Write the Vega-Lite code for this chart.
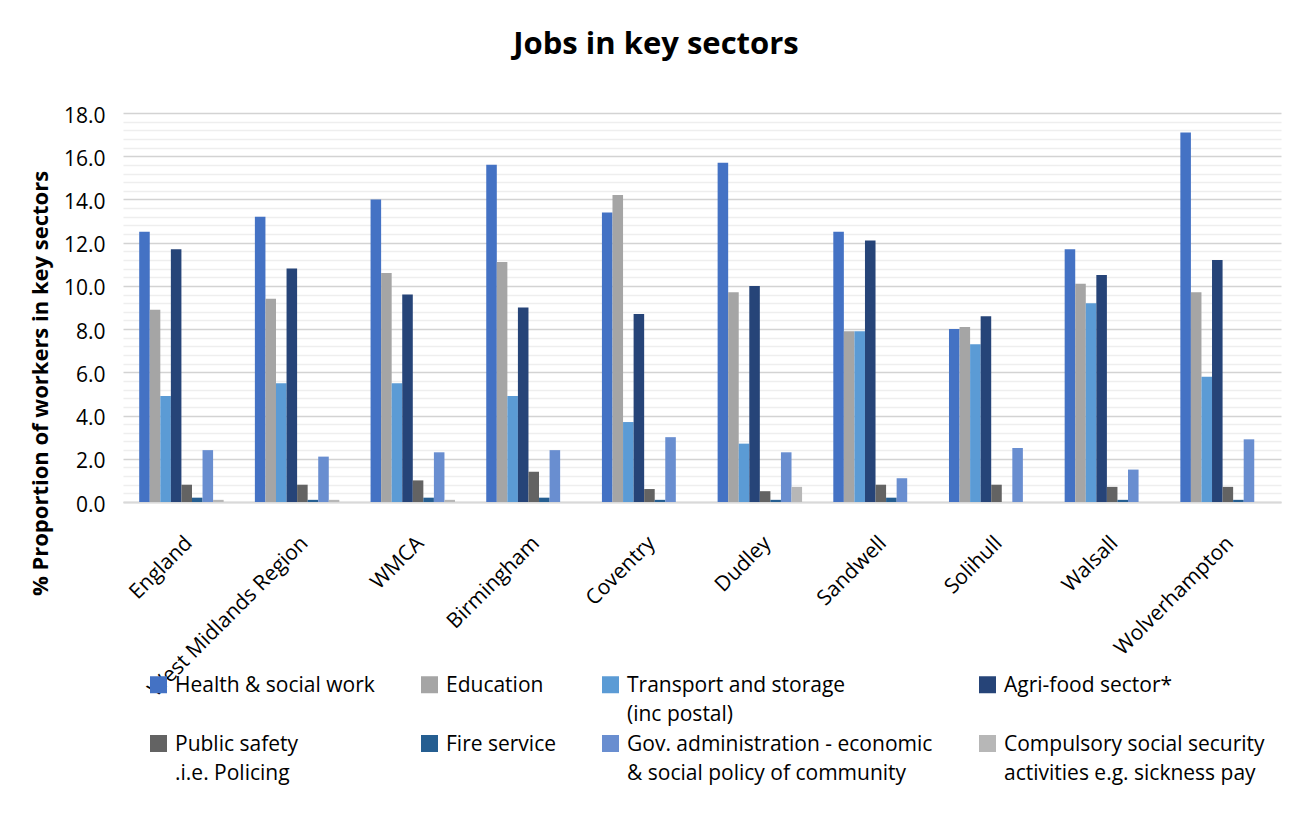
{
  "$schema": "https://vega.github.io/schema/vega-lite/v6.json",
  "width": 1158,
  "height": 389,
  "autosize": "none",
  "padding": {"left": 123, "top": 113, "right": 31, "bottom": 333},
  "background": "white",
  "title": {"text": "Jobs in key sectors", "font": "Open Sans", "fontSize": 31, "fontWeight": "bold", "color": "#000000", "anchor": "middle", "offset": 44, "dx": -46},
  "data": {"values": [
    {"area": "England", "sector": "Health & social work", "pct": 12.5},
    {"area": "England", "sector": "Education", "pct": 8.9},
    {"area": "England", "sector": "Transport and storage (inc postal)", "pct": 4.9},
    {"area": "England", "sector": "Agri-food sector*", "pct": 11.7},
    {"area": "England", "sector": "Public safety .i.e. Policing", "pct": 0.8},
    {"area": "England", "sector": "Fire service", "pct": 0.2},
    {"area": "England", "sector": "Gov. administration - economic & social policy of community", "pct": 2.4},
    {"area": "England", "sector": "Compulsory social security activities e.g. sickness pay", "pct": 0.1},
    {"area": "West Midlands Region", "sector": "Health & social work", "pct": 13.2},
    {"area": "West Midlands Region", "sector": "Education", "pct": 9.4},
    {"area": "West Midlands Region", "sector": "Transport and storage (inc postal)", "pct": 5.5},
    {"area": "West Midlands Region", "sector": "Agri-food sector*", "pct": 10.8},
    {"area": "West Midlands Region", "sector": "Public safety .i.e. Policing", "pct": 0.8},
    {"area": "West Midlands Region", "sector": "Fire service", "pct": 0.1},
    {"area": "West Midlands Region", "sector": "Gov. administration - economic & social policy of community", "pct": 2.1},
    {"area": "West Midlands Region", "sector": "Compulsory social security activities e.g. sickness pay", "pct": 0.1},
    {"area": "WMCA", "sector": "Health & social work", "pct": 14.0},
    {"area": "WMCA", "sector": "Education", "pct": 10.6},
    {"area": "WMCA", "sector": "Transport and storage (inc postal)", "pct": 5.5},
    {"area": "WMCA", "sector": "Agri-food sector*", "pct": 9.6},
    {"area": "WMCA", "sector": "Public safety .i.e. Policing", "pct": 1.0},
    {"area": "WMCA", "sector": "Fire service", "pct": 0.2},
    {"area": "WMCA", "sector": "Gov. administration - economic & social policy of community", "pct": 2.3},
    {"area": "WMCA", "sector": "Compulsory social security activities e.g. sickness pay", "pct": 0.1},
    {"area": "Birmingham", "sector": "Health & social work", "pct": 15.6},
    {"area": "Birmingham", "sector": "Education", "pct": 11.1},
    {"area": "Birmingham", "sector": "Transport and storage (inc postal)", "pct": 4.9},
    {"area": "Birmingham", "sector": "Agri-food sector*", "pct": 9.0},
    {"area": "Birmingham", "sector": "Public safety .i.e. Policing", "pct": 1.4},
    {"area": "Birmingham", "sector": "Fire service", "pct": 0.2},
    {"area": "Birmingham", "sector": "Gov. administration - economic & social policy of community", "pct": 2.4},
    {"area": "Coventry", "sector": "Health & social work", "pct": 13.4},
    {"area": "Coventry", "sector": "Education", "pct": 14.2},
    {"area": "Coventry", "sector": "Transport and storage (inc postal)", "pct": 3.7},
    {"area": "Coventry", "sector": "Agri-food sector*", "pct": 8.7},
    {"area": "Coventry", "sector": "Public safety .i.e. Policing", "pct": 0.6},
    {"area": "Coventry", "sector": "Fire service", "pct": 0.1},
    {"area": "Coventry", "sector": "Gov. administration - economic & social policy of community", "pct": 3.0},
    {"area": "Dudley", "sector": "Health & social work", "pct": 15.7},
    {"area": "Dudley", "sector": "Education", "pct": 9.7},
    {"area": "Dudley", "sector": "Transport and storage (inc postal)", "pct": 2.7},
    {"area": "Dudley", "sector": "Agri-food sector*", "pct": 10.0},
    {"area": "Dudley", "sector": "Public safety .i.e. Policing", "pct": 0.5},
    {"area": "Dudley", "sector": "Fire service", "pct": 0.1},
    {"area": "Dudley", "sector": "Gov. administration - economic & social policy of community", "pct": 2.3},
    {"area": "Dudley", "sector": "Compulsory social security activities e.g. sickness pay", "pct": 0.7},
    {"area": "Sandwell", "sector": "Health & social work", "pct": 12.5},
    {"area": "Sandwell", "sector": "Education", "pct": 7.9},
    {"area": "Sandwell", "sector": "Transport and storage (inc postal)", "pct": 7.9},
    {"area": "Sandwell", "sector": "Agri-food sector*", "pct": 12.1},
    {"area": "Sandwell", "sector": "Public safety .i.e. Policing", "pct": 0.8},
    {"area": "Sandwell", "sector": "Fire service", "pct": 0.2},
    {"area": "Sandwell", "sector": "Gov. administration - economic & social policy of community", "pct": 1.1},
    {"area": "Solihull", "sector": "Health & social work", "pct": 8.0},
    {"area": "Solihull", "sector": "Education", "pct": 8.1},
    {"area": "Solihull", "sector": "Transport and storage (inc postal)", "pct": 7.3},
    {"area": "Solihull", "sector": "Agri-food sector*", "pct": 8.6},
    {"area": "Solihull", "sector": "Public safety .i.e. Policing", "pct": 0.8},
    {"area": "Solihull", "sector": "Gov. administration - economic & social policy of community", "pct": 2.5},
    {"area": "Walsall", "sector": "Health & social work", "pct": 11.7},
    {"area": "Walsall", "sector": "Education", "pct": 10.1},
    {"area": "Walsall", "sector": "Transport and storage (inc postal)", "pct": 9.2},
    {"area": "Walsall", "sector": "Agri-food sector*", "pct": 10.5},
    {"area": "Walsall", "sector": "Public safety .i.e. Policing", "pct": 0.7},
    {"area": "Walsall", "sector": "Fire service", "pct": 0.1},
    {"area": "Walsall", "sector": "Gov. administration - economic & social policy of community", "pct": 1.5},
    {"area": "Wolverhampton", "sector": "Health & social work", "pct": 17.1},
    {"area": "Wolverhampton", "sector": "Education", "pct": 9.7},
    {"area": "Wolverhampton", "sector": "Transport and storage (inc postal)", "pct": 5.8},
    {"area": "Wolverhampton", "sector": "Agri-food sector*", "pct": 11.2},
    {"area": "Wolverhampton", "sector": "Public safety .i.e. Policing", "pct": 0.7},
    {"area": "Wolverhampton", "sector": "Fire service", "pct": 0.1},
    {"area": "Wolverhampton", "sector": "Gov. administration - economic & social policy of community", "pct": 2.9}
  ]},
  "mark": {"type": "bar"},
  "encoding": {
    "x": {
      "field": "area", "type": "nominal",
      "sort": ["England", "West Midlands Region", "WMCA", "Birmingham", "Coventry", "Dudley", "Sandwell", "Solihull", "Walsall", "Wolverhampton"],
      "scale": {"paddingInner": 0.27, "paddingOuter": 0.14},
      "axis": {"title": null, "labelAngle": -45, "labelAlign": "right", "labelBaseline": "top", "labelPadding": 30, "labelFont": "Open Sans", "labelFontSize": 21, "labelColor": "#000000", "labelLimit": 500, "labelOverlap": false, "ticks": false, "domainColor": "#d9d9d9", "domainWidth": 2, "grid": false}
    },
    "xOffset": {
      "field": "sector", "type": "nominal",
      "scale": {"domain": ["Health & social work", "Education", "Transport and storage (inc postal)", "Agri-food sector*", "Public safety .i.e. Policing", "Fire service", "Gov. administration - economic & social policy of community", "Compulsory social security activities e.g. sickness pay"], "paddingInner": 0, "paddingOuter": 0}
    },
    "y": {
      "field": "pct", "type": "quantitative",
      "scale": {"domain": [0, 18], "nice": false},
      "axis": {
        "title": "% Proportion of workers in key sectors",
        "titleFont": "Open Sans", "titleFontSize": 22, "titleFontWeight": "bold", "titleColor": "#000000",
        "titleAngle": -90, "titleX": -83, "titleY": 270, "titleAlign": "center", "titleBaseline": "middle",
        "values": [0, 0.4, 0.8, 1.2, 1.6, 2, 2.4, 2.8, 3.2, 3.6, 4, 4.4, 4.8, 5.2, 5.6, 6, 6.4, 6.8, 7.2, 7.6, 8, 8.4, 8.8, 9.2, 9.6, 10, 10.4, 10.8, 11.2, 11.6, 12, 12.4, 12.8, 13.2, 13.6, 14, 14.4, 14.8, 15.2, 15.6, 16, 16.4, 16.8, 17.2, 17.6, 18],
        "labelExpr": "datum.value % 2 === 0 ? format(datum.value, '.1f') : ''",
        "labelFont": "Open Sans", "labelFontSize": 21, "labelColor": "#000000", "labelPadding": 18, "labelOffset": 3,
        "labelOverlap": false, "labelFlush": false,
        "ticks": false, "domain": false, "grid": true,
        "gridColor": {"condition": {"test": "datum.value % 2 === 0", "value": "#d3d3d3"}, "value": "#eeeeee"},
        "gridWidth": 1.6
      }
    },
    "color": {
      "field": "sector", "type": "nominal",
      "scale": {
        "domain": ["Health & social work", "Education", "Transport and storage (inc postal)", "Agri-food sector*", "Public safety .i.e. Policing", "Fire service", "Gov. administration - economic & social policy of community", "Compulsory social security activities e.g. sickness pay"],
        "range": ["#4472C4", "#A5A5A5", "#5B9BD5", "#264478", "#636363", "#255E91", "#698ED0", "#B7B7B7"]
      },
      "legend": {
        "title": null, "orient": "none", "legendX": 25, "legendY": 561, "direction": "horizontal", "columns": 4,
        "columnPadding": 44, "rowPadding": 8, "padding": 0,
        "symbolType": "square", "symbolSize": 289, "symbolStrokeWidth": 0, "symbolOpacity": 1,
        "labelFont": "Open Sans", "labelFontSize": 21, "labelColor": "#000000", "labelLimit": 500, "labelOffset": 6, "labelBaseline": "top",
        "labelExpr": "datum.label == 'Transport and storage (inc postal)' ? ['Transport and storage', '(inc postal)'] : datum.label == 'Public safety .i.e. Policing' ? ['Public safety', ' .i.e. Policing'] : datum.label == 'Gov. administration - economic & social policy of community' ? ['Gov. administration - economic', '& social policy of community'] : datum.label == 'Compulsory social security activities e.g. sickness pay' ? ['Compulsory social security', 'activities e.g. sickness pay'] : [datum.label, ' ']",
        "encode": {"labels": {"update": {"lineHeight": {"value": 29}, "dy": {"value": -10}}}}
      }
    }
  },
  "config": {"view": {"stroke": null}, "font": "Open Sans"}
}
